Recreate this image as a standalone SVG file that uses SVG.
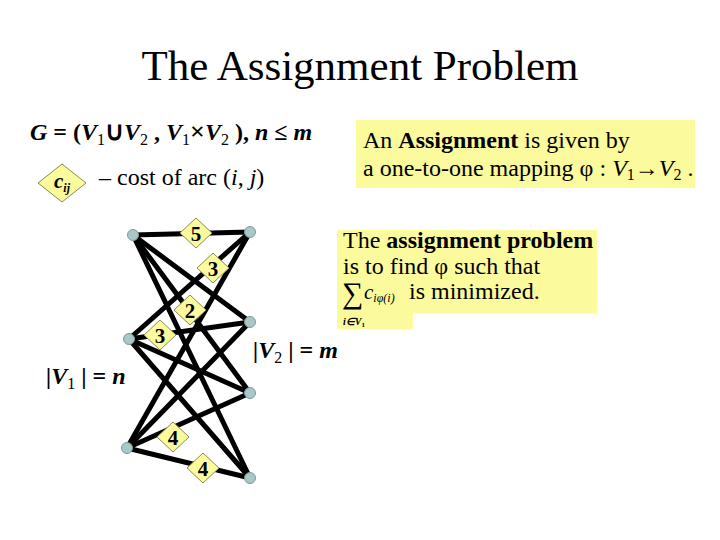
<svg xmlns="http://www.w3.org/2000/svg" width="720" height="540" viewBox="0 0 720 540">
<style>
text{font-family:"Liberation Serif","Times New Roman",serif;fill:#000}
.edge{stroke:#000;stroke-width:5;stroke-linecap:round}
.node{fill:#a9c7c7;stroke:#7f9a9a;stroke-width:1}
.dia{fill:#fbfb9e;stroke:#8a8a50;stroke-width:1}
.w{font-weight:bold;font-size:21px;text-anchor:middle}
.box{fill:#fbfb9e}
.b{font-weight:bold}
.i{font-style:italic}
.sub{font-size:16px;font-weight:normal;font-style:normal}
</style>
<rect width="720" height="540" fill="#fff"/>
<text x="360" y="80" font-size="43" text-anchor="middle">The Assignment Problem</text>

<g id="formula">
<text x="30" y="140" font-size="24" class="b"><tspan class="i">G</tspan> = (<tspan class="i">V</tspan><tspan class="sub" dy="5">1</tspan><tspan dy="-5" font-size="26">∪</tspan><tspan class="i">V</tspan><tspan class="sub" dy="5">2</tspan><tspan dy="-5"> ,  </tspan><tspan class="i">V</tspan><tspan class="sub" dy="5">1</tspan><tspan dy="-5" font-size="26">×</tspan><tspan class="i">V</tspan><tspan class="sub" dy="5">2</tspan><tspan dy="-5"> ), </tspan><tspan class="i">n</tspan> ≤ <tspan class="i">m</tspan></text>
</g>

<g id="cost-legend">
<polygon class="dia" points="62,164 86,183 62,202 38,183"/>
<text x="54" y="188" font-size="21" class="b i">c<tspan font-size="12" dy="4">ij</tspan></text>
<text x="99" y="185" font-size="24">– cost of arc (<tspan class="i">i</tspan>, <tspan class="i">j</tspan>)</text>
</g>

<g id="assignment-box">
<rect class="box" x="356" y="120" width="339" height="68"/>
<text x="363" y="148" font-size="24">An <tspan class="b">Assignment</tspan> is given by</text>
<text x="363" y="176" font-size="24">a one-to-one mapping φ : <tspan class="i">V</tspan><tspan font-size="16" dy="4">1</tspan><tspan dy="-4">→</tspan><tspan class="i">V</tspan><tspan font-size="16" dy="4">2</tspan><tspan dy="-4"> .</tspan></text>
</g>

<g id="problem-box">
<path class="box" d="M337,230 H597 V313 H413 V329 H337 Z"/>
<text x="343" y="248" font-size="24">The <tspan class="b">assignment problem</tspan></text>
<text x="343" y="274" font-size="24">is to find φ  such that</text>
<text x="342" y="303" font-size="30">∑</text>
<text x="364" y="299" font-size="21" class="i">c<tspan font-size="12" dy="3">iφ(i)</tspan></text>
<text x="409" y="299" font-size="24">is minimized.</text>
<text x="343" y="325" font-size="10" class="i b">i∈V<tspan font-size="7" dy="2" font-style="normal">1</tspan></text>
</g>

<text x="253" y="358" font-size="24" class="b"><tspan class="i">|V</tspan><tspan class="sub" dy="5">2</tspan><tspan dy="-5"> | = </tspan><tspan class="i">m</tspan></text>
<text x="46" y="384" font-size="24" class="b"><tspan class="i">|V</tspan><tspan class="sub" dy="5">1</tspan><tspan dy="-5"> | = </tspan><tspan class="i">n</tspan></text>

<g id="connectors">
<line class="edge" x1="133" y1="235" x2="250" y2="232"/>
<line class="edge" x1="133" y1="235" x2="250" y2="322"/>
<line class="edge" x1="133" y1="235" x2="250" y2="393"/>
<line class="edge" x1="133" y1="235" x2="250" y2="478"/>
<line class="edge" x1="129" y1="339" x2="250" y2="232"/>
<line class="edge" x1="129" y1="339" x2="250" y2="322"/>
<line class="edge" x1="129" y1="339" x2="250" y2="393"/>
<line class="edge" x1="129" y1="339" x2="250" y2="478"/>
<line class="edge" x1="127" y1="448" x2="250" y2="232"/>
<line class="edge" x1="127" y1="448" x2="250" y2="322"/>
<line class="edge" x1="127" y1="448" x2="250" y2="393"/>
<line class="edge" x1="127" y1="448" x2="250" y2="478"/>
</g>

<g id="weights">
<g id="w-5"><polygon class="dia" points="196,218 212,233 196,248 180,233"/><text class="w" x="196" y="241">5</text></g>
<g id="w-3a"><polygon class="dia" points="213,253 229,268 213,283 197,268"/><text class="w" x="213" y="276">3</text></g>
<g id="w-2"><polygon class="dia" points="190,295 206,310 190,325 174,310"/><text class="w" x="190" y="318">2</text></g>
<g id="w-3b"><polygon class="dia" points="160,320 176,335 160,350 144,335"/><text class="w" x="160" y="343">3</text></g>
<g id="w-4a"><polygon class="dia" points="173,422 189,437 173,452 157,437"/><text class="w" x="173" y="445">4</text></g>
<g id="w-4b"><polygon class="dia" points="203,453 219,468 203,483 187,468"/><text class="w" x="203" y="476">4</text></g>
</g>

<g id="nodes">
<circle id="v1-1" class="node" cx="133" cy="235" r="5.5"/>
<circle id="v1-2" class="node" cx="129" cy="339" r="5.5"/>
<circle id="v1-3" class="node" cx="127" cy="448" r="5.5"/>
<circle id="v2-1" class="node" cx="250" cy="232" r="5.5"/>
<circle id="v2-2" class="node" cx="250" cy="322" r="5.5"/>
<circle id="v2-3" class="node" cx="250" cy="393" r="5.5"/>
<circle id="v2-4" class="node" cx="250" cy="478" r="5.5"/>
</g>
</svg>
